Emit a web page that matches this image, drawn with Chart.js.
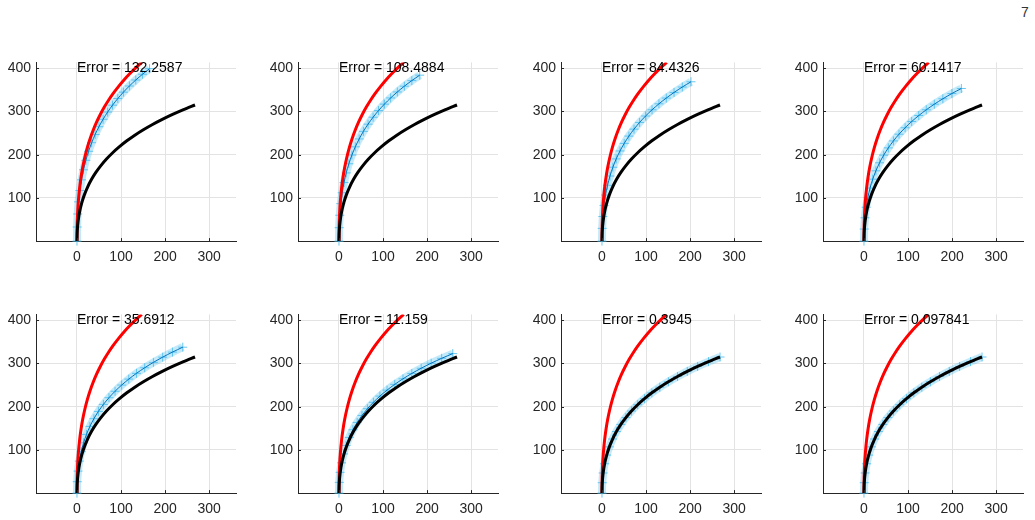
<!DOCTYPE html>
<html><head><meta charset="utf-8">
<script src="https://cdn.jsdelivr.net/npm/chart.js@4.4.0/dist/chart.umd.min.js"></script>
<style>
html,body{margin:0;padding:0;background:#fff;width:1035px;height:520px;overflow:hidden;position:relative;font-family:"Liberation Sans",Arial,sans-serif}
canvas{position:absolute}
#page{position:absolute;left:1021px;top:4.8px;font-size:14px;line-height:14px;color:#333333}
</style></head><body>
<div id="page">7</div>
<script>
// ---- data ----
const xTicks = [0, 100, 200, 300];
const yTicks = [100, 200, 300, 400];
const errorLabels = ['Error = 132.2587','Error = 108.4884','Error = 84.4326','Error = 60.1417',
                     'Error = 35.6912','Error = 11.159','Error = 0.3945','Error = 0.097841'];
const labelAt = [0, 400];

const redX = [0,0.37,1.47,3.31,5.88,9.19,13.23,18.01,23.52,29.77,36.75,44.47,52.92,62.11,72.03,82.69,94.08,106.21,119.07,132.67,147.00];
const redY = [0,34.05,65.52,94.76,122.06,147.69,171.81,194.61,216.22,236.75,256.32,275.00,292.88,310.01,326.46,342.29,357.53,372.23,386.43,400.15,413.44];
const blackX = [0,0.67,2.68,6.03,10.72,16.75,24.12,32.83,42.88,54.27,67.00,81.07,96.48,113.23,131.32,150.75,171.52,193.63,217.08,241.87,268.00];
const blackY = [0,24.00,46.55,67.80,87.90,106.97,125.10,142.39,158.91,174.72,189.89,204.47,218.49,232.00,245.03,257.63,269.81,281.60,293.03,304.12,314.88];

const blue1X = [0,0.41,1.65,3.71,6.59,10.30,14.83,20.19,26.37,33.37,41.20,49.85,59.32,69.62,80.75,92.69,105.46,119.06,133.48,148.72,164.79];
const blue1Y = [0,32.57,62.73,90.80,117.04,141.70,164.94,186.93,207.80,227.63,246.55,264.63,281.94,298.54,314.49,329.84,344.64,358.91,372.70,386.03,398.95];
const blue2X = [0,0.46,1.83,4.13,7.33,11.46,16.50,22.46,29.33,37.12,45.83,55.45,65.99,77.45,89.82,103.11,117.31,132.44,148.47,165.43,183.30];
const blue2Y = [0,31.03,59.83,86.67,111.81,135.47,157.80,178.94,199.03,218.14,236.39,253.84,270.56,286.61,302.03,316.89,331.21,345.04,358.41,371.34,383.87];
const blue3X = [0,0.51,2.02,4.55,8.08,12.63,18.18,24.75,32.33,40.92,50.51,61.12,72.74,85.37,99.01,113.66,129.32,145.99,163.66,182.36,202.06];
const blue3Y = [0,29.48,56.89,82.49,106.52,129.16,150.56,170.85,190.14,208.53,226.09,242.91,259.03,274.52,289.41,303.77,317.62,330.99,343.93,356.46,368.60];
const blue4X = [0,0.55,2.21,4.97,8.84,13.82,19.89,27.08,35.37,44.76,55.26,66.87,79.58,93.40,108.32,124.34,141.47,159.71,179.05,199.50,221.05];
const blue4Y = [0,27.90,53.91,78.26,101.15,122.77,143.22,162.65,181.15,198.79,215.67,231.84,247.35,262.27,276.62,290.48,303.85,316.76,329.27,341.38,353.12];
const blue5X = [0,0.60,2.40,5.40,9.61,15.01,21.62,29.42,38.43,48.64,60.04,72.65,86.46,101.47,117.68,135.10,153.71,173.52,194.54,216.75,240.17];
const blue5Y = [0,26.31,50.91,74.00,95.76,116.34,135.84,154.40,172.09,188.99,205.17,220.69,235.60,249.94,263.76,277.10,289.99,302.44,314.51,326.21,337.55];
const blue6X = [0,0.65,2.58,5.81,10.33,16.15,23.25,31.64,41.33,52.31,64.58,78.14,93.00,109.14,126.58,145.31,165.32,186.64,209.24,233.13,258.32];
const blue6Y = [0,24.80,48.07,69.96,90.63,110.23,128.84,146.57,163.49,179.68,195.20,210.11,224.44,238.24,251.54,264.40,276.83,288.85,300.50,311.80,322.76];
const blue7X = [0,0.67,2.68,6.03,10.72,16.75,24.12,32.83,42.88,54.27,67.00,81.07,96.48,113.23,131.32,150.75,171.52,193.63,217.08,241.87,268.00];
const blue7Y = [0,24.00,46.55,67.80,87.90,106.97,125.10,142.39,158.91,174.72,189.89,204.47,218.49,232.00,245.03,257.63,269.81,281.60,293.03,304.12,314.88];
const blue8X = [0,0.67,2.68,6.03,10.72,16.75,24.12,32.83,42.88,54.27,67.00,81.07,96.48,113.23,131.32,150.75,171.52,193.63,217.08,241.87,268.00];
const blue8Y = [0,24.00,46.55,67.80,87.90,106.97,125.10,142.39,158.91,174.72,189.89,204.47,218.49,232.00,245.03,257.63,269.81,281.60,293.03,304.12,314.88];

const blueXs = [blue1X,blue2X,blue3X,blue4X,blue5X,blue6X,blue7X,blue8X];
const blueYs = [blue1Y,blue2Y,blue3Y,blue4Y,blue5Y,blue6Y,blue7Y,blue8Y];

// ---- layout ----
const colLeft = [35.8, 298.1, 560.8, 823.4];
const rowTop = [59.2, 311.2];
const CW = 262, CH = 250, PADT = 10, YW = 40, AREA_W = 200, AREA_H = 182.1;
const FONT = '"Liberation Sans", Arial, Helvetica, sans-serif';

function pts(xs, ys){ return xs.map((x,i)=>({x:x, y:ys[i]})); }

const annot = {
  id:'annot',
  afterDatasetsDraw(chart, args, opts){
    const {ctx, chartArea:a} = chart;
    const sx = chart.scales.x, sy = chart.scales.y;
    ctx.save();
    ctx.strokeStyle = '#262626'; ctx.lineWidth = 1;
    ctx.beginPath();
    xTicks.forEach(v=>{ const px = Math.round(sx.getPixelForValue(v)) + 0.5; ctx.moveTo(px, a.bottom); ctx.lineTo(px, a.bottom - 3); });
    yTicks.forEach(v=>{ const py = Math.round(sy.getPixelForValue(v)) + 0.5; ctx.moveTo(a.left, py); ctx.lineTo(a.left + 3, py); });
    ctx.stroke();
    ctx.font = '14px ' + FONT;
    ctx.fillStyle = '#000'; ctx.textAlign = 'left'; ctx.textBaseline = 'middle';
    ctx.fillText(opts.text, sx.getPixelForValue(labelAt[0]), sy.getPixelForValue(labelAt[1]));
    ctx.restore();
  }
};

for (let k = 0; k < 8; k++){
  const r = Math.floor(k/4), c = k % 4;
  const cv = document.createElement('canvas');
  cv.width = CW; cv.height = CH;
  cv.style.left = (colLeft[c] - YW) + 'px';
  cv.style.top = (rowTop[r] - PADT) + 'px';
  cv.style.width = CW + 'px'; cv.style.height = CH + 'px';
  document.body.appendChild(cv);
  const bx = blueXs[k], by = blueYs[k];
  new Chart(cv, {
    type:'scatter',
    data:{ datasets:[
      {data:pts(blackX,blackY), showLine:true, borderColor:'#000000', borderWidth:3, pointRadius:0, tension:0.3, order:1},
      {data:pts(redX,redY), showLine:true, borderColor:'#ff0000', borderWidth:3, pointRadius:0, tension:0.3, order:2},
      {data:pts(bx,by), showLine:true, borderColor:'#0072BD', borderWidth:1, pointRadius:0, tension:0.3, order:3},
      {data:pts(bx,by), showLine:false, pointStyle:'cross', pointRadius:4.5, pointBorderWidth:1,
       pointBorderColor:'rgba(77,190,238,0.85)', pointBackgroundColor:'rgba(0,0,0,0)', order:4, clip:false},
      {data:pts(bx,by), showLine:true, borderColor:'rgba(77,190,238,0.33)', borderWidth:8, pointRadius:0, tension:0.3, order:5}
    ]},
    options:{
      responsive:false, animation:false, devicePixelRatio:1,
      layout:{padding:{top:PADT, right:CW - YW - AREA_W, left:0, bottom:0}},
      plugins:{legend:{display:false}, tooltip:{enabled:false}, annot:{text:errorLabels[k]}},
      scales:{
        x:{type:'linear', min:-93, max:361,
           afterBuildTicks(s){ s.ticks = xTicks.map(v=>({value:v})); },
           afterFit(s){ s.height = CH - PADT - AREA_H; },
           grid:{color:'#e3e3e3', lineWidth:1, drawTicks:false},
           border:{display:true, color:'#262626', width:1},
           ticks:{color:'#262626', font:{family:FONT, size:14}, padding:8, maxRotation:0}},
        y:{type:'linear', min:0, max:413.44,
           afterBuildTicks(s){ s.ticks = yTicks.map(v=>({value:v})); },
           afterFit(s){ s.width = YW; },
           grid:{color:'#e3e3e3', lineWidth:1, drawTicks:false},
           border:{display:true, color:'#262626', width:1},
           ticks:{color:'#262626', font:{family:FONT, size:14}, padding:5}}
      }
    },
    plugins:[annot]
  });
}
</script>
</body></html>
